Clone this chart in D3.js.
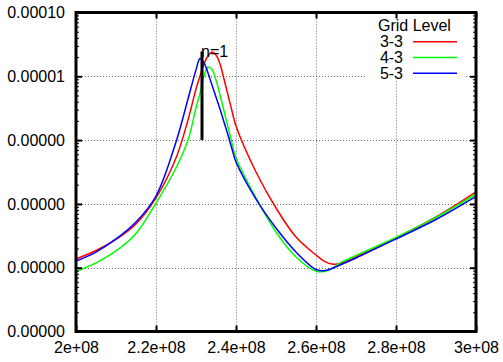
<!DOCTYPE html>
<html>
<head>
<meta charset="utf-8">
<script src="https://cdn.jsdelivr.net/npm/d3@7"></script>
<style>
  body { margin: 0; background: #fff; }
  text { font-family: "Liberation Sans", Arial, Helvetica, sans-serif; font-size: 16px; fill: #000; }
</style>
</head>
<body>
<svg id="chart" width="503" height="362"></svg>
<script>
// Frequency samples (Hz)
const freq = [2.00e8, 2.05e8, 2.10e8, 2.15e8, 2.20e8, 2.25e8, 2.28e8, 2.30e8, 2.31e8, 2.32e8,
              2.33e8, 2.34e8, 2.35e8, 2.36e8, 2.37e8, 2.38e8, 2.39e8, 2.40e8, 2.45e8, 2.50e8,
              2.55e8, 2.60e8, 2.62e8, 2.64e8, 2.66e8, 2.70e8, 2.80e8, 2.90e8, 3.00e8];

// Response per grid level
const level33 = [1.37e-8, 1.86e-8, 2.77e-8, 4.84e-8, 1.24e-7, 5.24e-7, 2.07e-6, 6.32e-6, 1.01e-5, 1.56e-5,
                 2.08e-5, 2.40e-5, 2.16e-5, 1.56e-5, 9.07e-6, 5.09e-6, 2.86e-6, 1.66e-6, 3.16e-7, 8.62e-8,
                 3.03e-8, 1.58e-8, 1.27e-8, 1.14e-8, 1.16e-8, 1.47e-8, 2.92e-8, 6.23e-8, 1.54e-7];
const level43 = [8.72e-9, 1.19e-8, 1.83e-8, 3.44e-8, 1.03e-7, 3.65e-7, 1.00e-6, 3.18e-6, 5.41e-6, 1.01e-5,
                 1.40e-5, 1.28e-5, 8.75e-6, 5.09e-6, 2.86e-6, 1.60e-6, 9.01e-7, 5.24e-7, 1.24e-7, 3.63e-8,
                 1.47e-8, 8.78e-9, 8.72e-9, 9.72e-9, 1.19e-8, 1.55e-8, 2.97e-8, 6.12e-8, 1.43e-7];
const level53 = [1.27e-8, 1.76e-8, 2.82e-8, 5.20e-8, 1.33e-7, 9.34e-7, 4.41e-6, 1.26e-5, 1.90e-5, 1.62e-5,
                 1.13e-5, 7.30e-6, 4.74e-6, 3.07e-6, 1.92e-6, 1.20e-6, 7.25e-7, 4.54e-7, 1.19e-7, 4.19e-8,
                 1.76e-8, 9.37e-9, 8.97e-9, 9.72e-9, 1.10e-8, 1.42e-8, 2.82e-8, 5.69e-8, 1.31e-7];

const seriesNames = ["3-3", "4-3", "5-3"];
const seriesColors = ["#ff0000", "#00ff00", "#0000ff"];
const legendTitle = "Grid Level";

const xTicks = [2.0e8, 2.2e8, 2.4e8, 2.6e8, 2.8e8, 3.0e8];
const xTickLabels = ["2e+08", "2.2e+08", "2.4e+08", "2.6e+08", "2.8e+08", "3e+08"];
const yTicks = [1e-9, 1e-8, 1e-7, 1e-6, 1e-5, 1e-4];
const yTickLabels = ["0.00000", "0.00000", "0.00000", "0.00000", "0.00001", "0.00010"];

// Marker for the first mode
const modeFreq = 2.315e8;
const modeRange = [1e-6, 2.45e-5];
const modeLabel = "n=1";

const series = [level33, level43, level53];

(function draw() {
  const svg = d3.select("#chart");
  const pLeft = 76, pRight = 476, pTop = 12.5, pBottom = 331.5;

  const x = d3.scaleLinear().domain([2e8, 3e8]).range([pLeft, pRight]);
  const y = d3.scaleLog().domain([1e-9, 1e-4]).range([pBottom, pTop]);

  // minor log ticks 2..9 per decade
  const yMinor = [];
  for (let e = -9; e < -4; e++) for (let m = 2; m <= 9; m++) yMinor.push(m * Math.pow(10, e));

  // dotted grid
  const grid = svg.append("g").attr("stroke", "#666").attr("stroke-width", 1).attr("stroke-dasharray", "1,2");
  grid.selectAll("line.gx").data(xTicks.slice(1, -1)).join("line")
    .attr("x1", d => Math.round(x(d)) + 0.5).attr("x2", d => Math.round(x(d)) + 0.5)
    .attr("y1", pTop).attr("y2", pBottom);
  grid.selectAll("line.gy").data(yTicks.slice(1, -1)).join("line")
    .attr("y1", d => Math.round(y(d)) + 0.5).attr("y2", d => Math.round(y(d)) + 0.5)
    .attr("x1", pLeft).attr("x2", pRight);

  // opaque key box
  svg.append("rect").attr("x", 366).attr("y", pTop + 1).attr("width", 100).attr("height", 67).attr("fill", "#fff");

  // curves
  const line = d3.line().x((d, i) => x(freq[i])).y(d => y(d)).curve(d3.curveCatmullRom.alpha(0.5));
  series.forEach((vals, k) => {
    svg.append("path").datum(vals).attr("d", line)
      .attr("fill", "none").attr("stroke", seriesColors[k]).attr("stroke-width", 1.5);
  });

  // mode marker
  svg.append("line")
    .attr("x1", x(modeFreq)).attr("x2", x(modeFreq))
    .attr("y1", y(modeRange[0])).attr("y2", y(modeRange[1]))
    .attr("stroke", "#000").attr("stroke-width", 3);
  svg.append("text").attr("x", x(modeFreq) - 1).attr("y", y(modeRange[1]) + 6).text(modeLabel);

  // axes
  function styleAxis(g) {
    g.select(".domain").remove();
    g.selectAll(".tick line").attr("stroke", "#000").attr("stroke-width", 2);
    g.selectAll(".tick text").style("font-family", '"Liberation Sans", Arial, sans-serif').style("font-size", "16px").attr("fill", "#000");
  }
  svg.append("g").attr("transform", `translate(0,${pBottom})`)
    .call(d3.axisBottom(x).tickValues(xTicks).tickFormat((d, i) => xTickLabels[i]).tickSize(-6).tickPadding(10))
    .call(styleAxis);
  svg.append("g").attr("transform", `translate(0,${pTop})`)
    .call(d3.axisTop(x).tickValues(xTicks).tickFormat("").tickSize(-6))
    .call(styleAxis);
  svg.append("g").attr("transform", `translate(${pLeft},0)`)
    .call(d3.axisLeft(y).tickValues(yTicks).tickFormat((d, i) => yTickLabels[i]).tickSize(-6).tickPadding(11))
    .call(styleAxis);
  svg.append("g").attr("transform", `translate(${pRight},0)`)
    .call(d3.axisRight(y).tickValues(yTicks).tickFormat("").tickSize(-6))
    .call(styleAxis);
  svg.append("g").attr("transform", `translate(${pLeft},0)`)
    .call(d3.axisLeft(y).tickValues(yMinor).tickFormat("").tickSize(-3))
    .call(styleAxis).selectAll(".tick line").attr("stroke-width", 1);
  svg.append("g").attr("transform", `translate(${pRight},0)`)
    .call(d3.axisRight(y).tickValues(yMinor).tickFormat("").tickSize(-3))
    .call(styleAxis).selectAll(".tick line").attr("stroke-width", 1);

  // frame
  svg.append("rect").attr("x", pLeft).attr("y", pTop).attr("width", pRight - pLeft).attr("height", pBottom - pTop)
    .attr("fill", "none").attr("stroke", "#000").attr("stroke-width", 3);

  // legend
  const key = svg.append("g");
  key.append("text").attr("x", 378).attr("y", 31).text(legendTitle);
  seriesNames.forEach((name, k) => {
    const cy = 41.7 + k * 15.8;
    key.append("text").attr("x", 403).attr("y", cy + 5.5).attr("text-anchor", "end").text(name);
    key.append("line").attr("x1", 413).attr("x2", 457).attr("y1", cy).attr("y2", cy)
      .attr("stroke", seriesColors[k]).attr("stroke-width", 1.5);
  });
})();
</script>
</body>
</html>
